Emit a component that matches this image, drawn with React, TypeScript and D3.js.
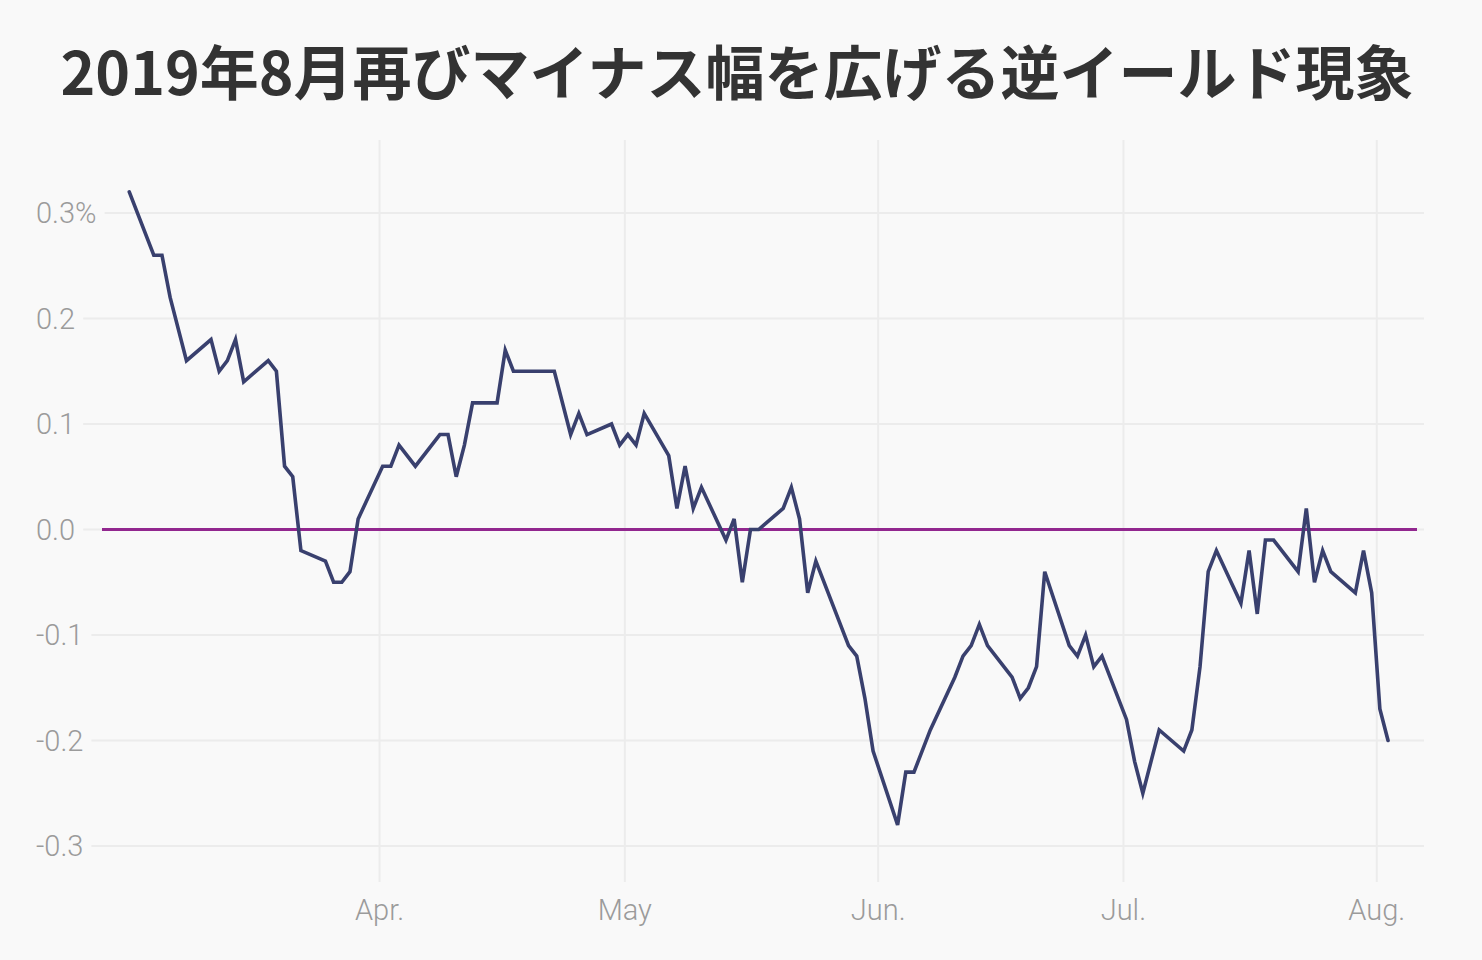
import React, { useEffect, useRef } from "react";
import * as d3 from "d3";

const title = "2019年8月再びマイナス幅を広げる逆イールド現象";

const dates = [
  "2019-03-01", "2019-03-04", "2019-03-05", "2019-03-06", "2019-03-08", "2019-03-11", "2019-03-12", "2019-03-13", "2019-03-14", "2019-03-15",
  "2019-03-18", "2019-03-19", "2019-03-20", "2019-03-21", "2019-03-22", "2019-03-25", "2019-03-26", "2019-03-27", "2019-03-28", "2019-03-29",
  "2019-04-01", "2019-04-02", "2019-04-03", "2019-04-05", "2019-04-08", "2019-04-09", "2019-04-10", "2019-04-11", "2019-04-12", "2019-04-15",
  "2019-04-16", "2019-04-17", "2019-04-22", "2019-04-24", "2019-04-25", "2019-04-26", "2019-04-29", "2019-04-30",
  "2019-05-01", "2019-05-02", "2019-05-03", "2019-05-06", "2019-05-07", "2019-05-08", "2019-05-09", "2019-05-10", "2019-05-13", "2019-05-14",
  "2019-05-15", "2019-05-16", "2019-05-17", "2019-05-20", "2019-05-21", "2019-05-22", "2019-05-23", "2019-05-24", "2019-05-28", "2019-05-29",
  "2019-05-30", "2019-05-31",
  "2019-06-03", "2019-06-04", "2019-06-05", "2019-06-07", "2019-06-10", "2019-06-11", "2019-06-12", "2019-06-13", "2019-06-14", "2019-06-17",
  "2019-06-18", "2019-06-19", "2019-06-20", "2019-06-21", "2019-06-24", "2019-06-25", "2019-06-26", "2019-06-27", "2019-06-28",
  "2019-07-01", "2019-07-02", "2019-07-03", "2019-07-05", "2019-07-08", "2019-07-09", "2019-07-10", "2019-07-11", "2019-07-12", "2019-07-15",
  "2019-07-16", "2019-07-17", "2019-07-18", "2019-07-19", "2019-07-22", "2019-07-23", "2019-07-24", "2019-07-25", "2019-07-26", "2019-07-29",
  "2019-07-30", "2019-07-31",
  "2019-08-01", "2019-08-02",
];

const spread = [
  0.32, 0.26, 0.26, 0.22, 0.16, 0.18, 0.15, 0.16, 0.18, 0.14,
  0.16, 0.15, 0.06, 0.05, -0.02, -0.03, -0.05, -0.05, -0.04, 0.01,
  0.06, 0.06, 0.08, 0.06, 0.09, 0.09, 0.05, 0.08, 0.12, 0.12,
  0.17, 0.15, 0.15, 0.09, 0.11, 0.09, 0.10, 0.08,
  0.09, 0.08, 0.11, 0.07, 0.02, 0.06, 0.02, 0.04, -0.01, 0.01,
  -0.05, 0.0, 0.0, 0.02, 0.04, 0.01, -0.06, -0.03, -0.11, -0.12,
  -0.16, -0.21,
  -0.28, -0.23, -0.23, -0.19, -0.14, -0.12, -0.11, -0.09, -0.11, -0.14,
  -0.16, -0.15, -0.13, -0.04, -0.11, -0.12, -0.10, -0.13, -0.12,
  -0.18, -0.22, -0.25, -0.19, -0.21, -0.19, -0.13, -0.04, -0.02, -0.07,
  -0.02, -0.08, -0.01, -0.01, -0.04, 0.02, -0.05, -0.02, -0.04, -0.06,
  -0.02, -0.06,
  -0.17, -0.20,
];

const yTicks = [0.3, 0.2, 0.1, 0.0, -0.1, -0.2, -0.3];
const yTickLabels = ["0.3%", "0.2", "0.1", "0.0", "-0.1", "-0.2", "-0.3"];
const xTicks = ["2019-04-01", "2019-05-01", "2019-06-01", "2019-07-01", "2019-08-01"];
const xTickLabels = ["Apr.", "May", "Jun.", "Jul.", "Aug."];

const W = 1482;
const H = 960;
const BG = "#f9f9f9";
const GRID = "#ececec";
const TICK_COLOR = "#9b9b9b";
const LINE = "#39406e";
const ZERO = "#92278f";
const FONT = "Roboto, 'Noto Sans', sans-serif";

export default function App() {
  const ref = useRef<SVGSVGElement | null>(null);

  useEffect(() => {
    document.body.style.margin = "0";
    document.body.style.background = BG;
    const svg = d3.select(ref.current);
    svg.selectAll("*").remove();

    const parse = d3.timeParse("%Y-%m-%d");
    const x = d3
      .scaleTime()
      .domain([parse("2019-03-01")!, parse("2019-08-01")!])
      .range([126.2, 1376.8]);
    const y = d3.scaleLinear().domain([-0.3, 0.3]).range([846, 213]);

    svg.append("rect").attr("width", W).attr("height", H).attr("fill", BG);

    // title
    const t = svg
      .append("text")
      .attr("x", 737)
      .attr("y", 95)
      .attr("text-anchor", "middle")
      .attr("font-family", "'Noto Sans CJK JP', sans-serif")
      .attr("font-weight", 700)
      .attr("font-size", 59)
      .attr("fill", "#333333")
      .text(title);
    const tw = (t.node() as SVGTextElement).getComputedTextLength();
    if (Math.abs(tw - 1357) > 8) {
      t.attr("textLength", 1357).attr("lengthAdjust", "spacingAndGlyphs");
    }

    // vertical grid + x labels
    const xg = svg.append("g");
    xTicks.forEach((tk, i) => {
      const xp = x(parse(tk)!);
      xg.append("line")
        .attr("x1", xp).attr("x2", xp)
        .attr("y1", 140).attr("y2", 882)
        .attr("stroke", GRID).attr("stroke-width", 2);
      xg.append("text")
        .attr("x", xp).attr("y", 920)
        .attr("text-anchor", "middle")
        .attr("font-family", FONT)
        .attr("font-weight", 300)
        .attr("font-size", 29)
        .attr("fill", TICK_COLOR)
        .text(xTickLabels[i]);
    });

    // horizontal grid + y labels
    const yg = svg.append("g");
    yTicks.forEach((tk, i) => {
      const yp = y(tk);
      const line = yg.append("line")
        .attr("x1", 0).attr("x2", 1424)
        .attr("y1", yp).attr("y2", yp)
        .attr("stroke", GRID).attr("stroke-width", 2);
      const txt = yg.append("text")
        .attr("x", 36).attr("y", yp)
        .attr("dy", "0.36em")
        .attr("font-family", FONT)
        .attr("font-weight", 300)
        .attr("font-size", 29)
        .attr("fill", TICK_COLOR)
        .text(yTickLabels[i]);
      const w = (txt.node() as SVGTextElement).getComputedTextLength();
      line.attr("x1", 36 + w + 8);
    });

    // zero line
    svg.append("line")
      .attr("x1", 102).attr("x2", 1417)
      .attr("y1", y(0)).attr("y2", y(0))
      .attr("stroke", ZERO).attr("stroke-width", 3);

    // data line (UTC-dated points shown on a JST axis => +9h)
    const pts = dates.map((d, i) => ({ date: d3.timeHour.offset(parse(d)!, 9), v: spread[i] }));
    const lineGen = d3
      .line<{ date: Date; v: number }>()
      .x((d) => x(d.date))
      .y((d) => y(d.v));
    svg.append("path")
      .datum(pts)
      .attr("d", lineGen)
      .attr("fill", "none")
      .attr("stroke", LINE)
      .attr("stroke-width", 3.6)
      .attr("stroke-linejoin", "miter")
      .attr("stroke-linecap", "round");
  }, []);

  return <svg ref={ref} width={W} height={H} style={{ display: "block" }} />;
}
